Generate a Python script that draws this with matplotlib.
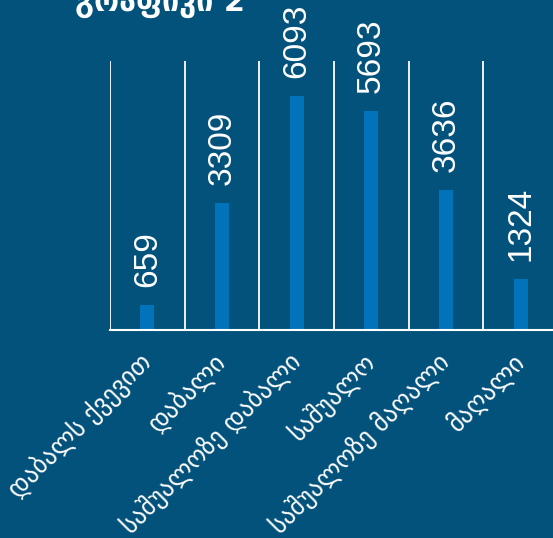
import numpy as np
import matplotlib
matplotlib.use("Agg")
import matplotlib.pyplot as plt

# ── data ──────────────────────────────────────────────────────────────────
CATEGORIES = ["დაბალს ქვევით", "დაბალი", "საშუალოზე დაბალი",
              "საშუალო", "საშუალოზე მაღალი", "მაღალი"]
VALUES = [659, 3309, 6093, 5693, 3636, 1324]
TITLE = "გრაფიკი 2"

# ── style ─────────────────────────────────────────────────────────────────
BG = "#03527C"
BAR = "#0073BB"
WHITE = "white"

plt.rcParams["font.family"] = ["DejaVu Sans"]

fig = plt.figure(figsize=(5.53, 5.38), dpi=100, facecolor=BG)
ax = fig.add_axes([110 / 553, 208 / 538, 448 / 553, 269 / 538])
ax.set_facecolor(BG)

x = np.arange(len(CATEGORIES))
bars = ax.bar(x, VALUES, width=0.19, color=BAR, zorder=3)

# value labels
for b, v in zip(bars, VALUES):
    ax.annotate(f"{v}", (b.get_x() + b.get_width() / 2, v),
                xytext=(0, 18), textcoords="offset pixels",
                rotation=90, ha="center", va="bottom", color=WHITE,
                fontsize=24, family="Liberation Sans")

# separators between categories
for b in np.arange(-0.5, len(CATEGORIES) + 0.5, 1.0):
    ax.axvline(b, color=WHITE, linewidth=1.3, zorder=2)

ax.set_xlim(-0.5, len(CATEGORIES) - 0.5)
ax.set_ylim(0, 7000)
ax.set_yticks([])
ax.set_xticks(x)
ax.set_xticklabels(CATEGORIES, rotation=45, ha="right", va="center",
                   rotation_mode="anchor", color=WHITE, fontsize=18)
ax.tick_params(axis="x", length=0, pad=20)
for s in ["top", "right", "left"]:
    ax.spines[s].set_visible(False)
ax.spines["bottom"].set_color(WHITE)
ax.spines["bottom"].set_linewidth(1.5)
ax.spines["bottom"].set_zorder(4)

fig.text(75 / 553, 1 - 11 / 538, TITLE, color=WHITE, fontsize=22,
         fontweight="bold", ha="left", va="baseline")

fig.savefig("out.png", dpi=100, facecolor=BG)
